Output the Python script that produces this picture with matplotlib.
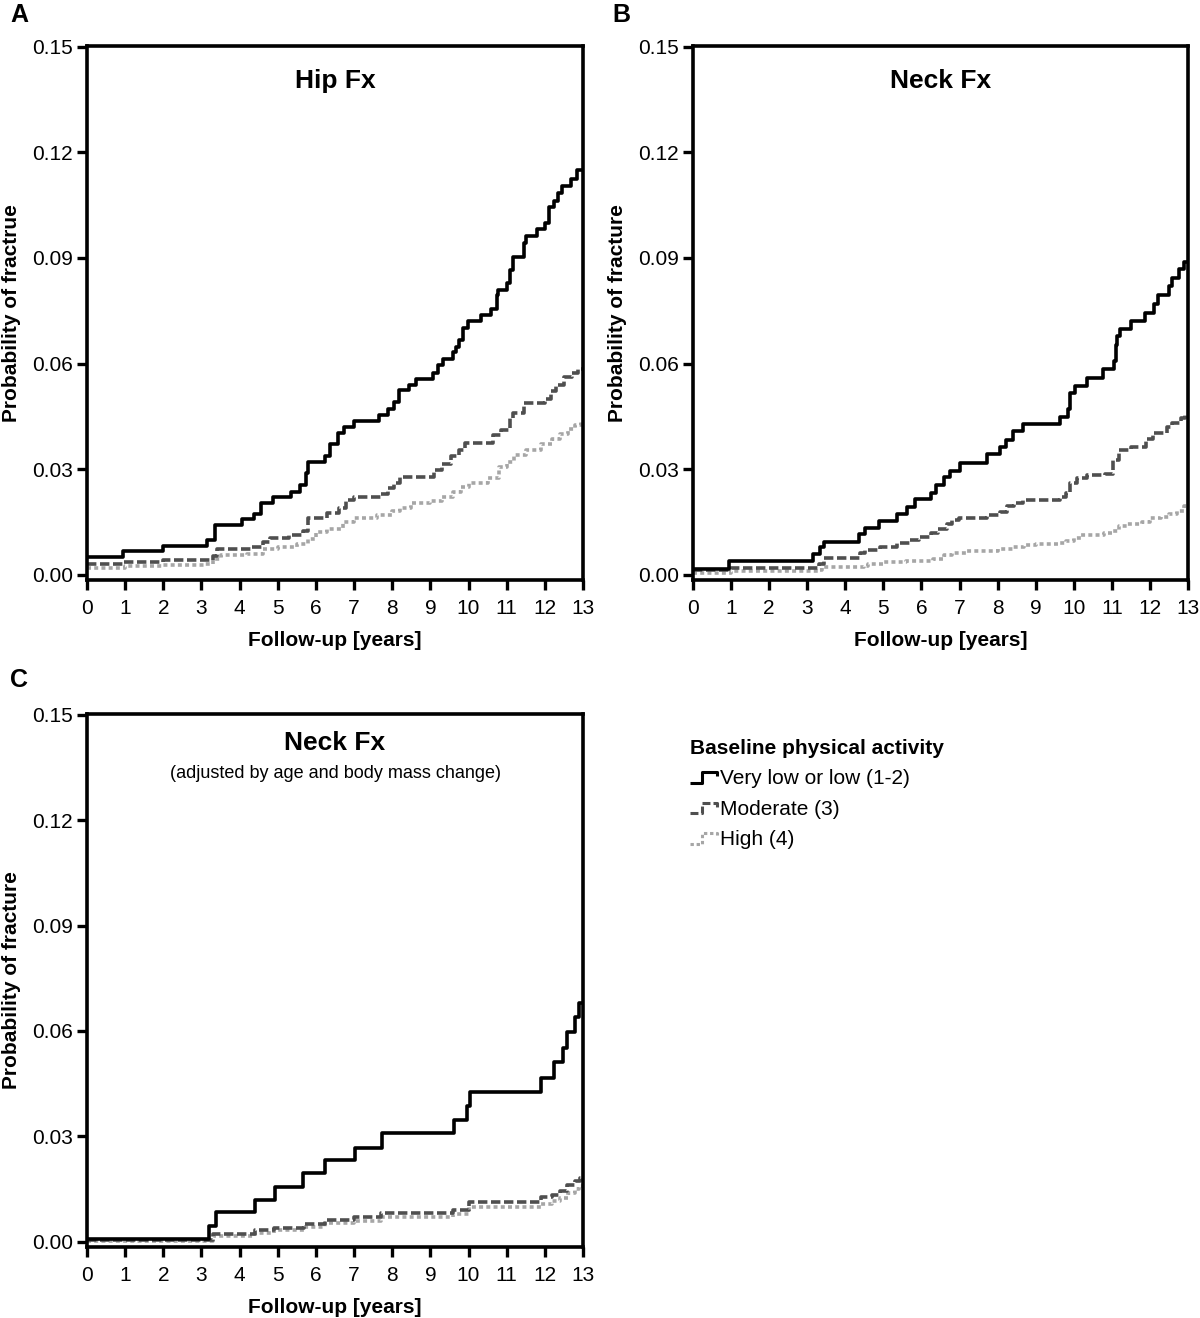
import numpy as np
import matplotlib
matplotlib.use("Agg")
import matplotlib.pyplot as plt
from matplotlib.lines import Line2D
from matplotlib.legend_handler import HandlerBase

plt.rcParams['font.family'] = ['Liberation Sans', 'DejaVu Sans']

# ---- data ----
# Panel A: hip fracture
hip_low_t = [0, 0.95, 1.98, 3.14, 3.36, 4.05, 4.39, 4.55, 4.88, 5.34, 5.59, 5.74, 5.79, 6.23, 6.36,
             6.57, 6.73, 7.0, 7.66, 7.9, 8.05, 8.17, 8.43, 8.63, 9.08, 9.2, 9.33, 9.58, 9.67, 9.76,
             9.85, 9.99, 10.33, 10.59, 10.75, 10.78, 11.02, 11.08, 11.17, 11.46, 11.5, 11.79, 12.0,
             12.12, 12.24, 12.35, 12.44, 12.69, 12.84]
hip_low_p = [0.0049, 0.0066, 0.0082, 0.0098, 0.0140, 0.0158, 0.0173, 0.0204, 0.0221, 0.0236, 0.0255,
             0.0288, 0.0320, 0.0337, 0.0370, 0.0402, 0.0420, 0.0438, 0.0454, 0.0470, 0.0490, 0.0526,
             0.0540, 0.0557, 0.0574, 0.0596, 0.0612, 0.0632, 0.0648, 0.0667, 0.0700, 0.0721, 0.0738,
             0.0755, 0.0796, 0.0810, 0.0828, 0.0867, 0.0903, 0.0943, 0.0963, 0.0981, 0.1000, 0.1044,
             0.1063, 0.1083, 0.1104, 0.1124, 0.1149]
hip_mod_t = [0, 0.95, 2.0, 3.3, 3.4, 4.3, 4.6, 4.8, 5.3, 5.65, 5.8, 6.3, 6.6, 6.8, 7.0, 7.7, 7.9,
             8.05, 8.2, 9.1, 9.3, 9.55, 9.75, 9.9, 10.65, 10.85, 11.08, 11.17, 11.45, 12.0, 12.15,
             12.3, 12.5, 12.7, 12.88]
hip_mod_p = [0.0030, 0.0036, 0.0042, 0.0052, 0.0073, 0.0080, 0.0092, 0.0105, 0.0112, 0.0125, 0.0162,
             0.0175, 0.0190, 0.0212, 0.0222, 0.0230, 0.0245, 0.0260, 0.0279, 0.0298, 0.0315, 0.0337,
             0.0355, 0.0375, 0.0397, 0.0410, 0.0446, 0.0459, 0.0487, 0.0500, 0.0522, 0.0539, 0.0561,
             0.0574, 0.0585]
hip_high_t = [0, 1.0, 2.0, 3.1, 3.3, 3.5, 4.2, 4.6, 5.0, 5.5, 5.8, 6.0, 6.3, 6.7, 7.0, 7.6, 8.0, 8.2,
              8.5, 9.0, 9.3, 9.6, 9.8, 10.0, 10.5, 10.8, 11.0, 11.2, 11.5, 11.9, 12.2, 12.4, 12.6,
              12.8, 12.95]
hip_high_p = [0.0020, 0.0025, 0.0028, 0.0030, 0.0045, 0.0055, 0.0060, 0.0072, 0.0080, 0.0088, 0.0102,
              0.0120, 0.0130, 0.0150, 0.0160, 0.0170, 0.0180, 0.0190, 0.0205, 0.0210, 0.0220, 0.0235,
              0.0250, 0.0260, 0.0275, 0.0305, 0.0320, 0.0340, 0.0355, 0.0370, 0.0385, 0.0400, 0.0415,
              0.0425, 0.0435]

# Panel B: femoral neck fracture
neck_low_t = [0, 0.95, 3.16, 3.34, 3.43, 4.37, 4.53, 4.89, 5.35, 5.62, 5.82, 6.26, 6.39, 6.58, 6.76,
              7.0, 7.71, 8.06, 8.21, 8.4, 8.67, 9.63, 9.84, 9.9, 10.04, 10.36, 10.77, 11.06, 11.1,
              11.13, 11.22, 11.49, 11.88, 12.11, 12.2, 12.49, 12.57, 12.77, 12.9]
neck_low_p = [0.0017, 0.0038, 0.0058, 0.0078, 0.0094, 0.0115, 0.0134, 0.0154, 0.0173, 0.0193, 0.0214,
              0.0233, 0.0255, 0.0277, 0.0296, 0.0317, 0.0342, 0.0364, 0.0384, 0.0408, 0.0427, 0.0449,
              0.0471, 0.0515, 0.0537, 0.0558, 0.0583, 0.0608, 0.0654, 0.0678, 0.0697, 0.0721, 0.0744,
              0.0768, 0.0796, 0.0821, 0.0843, 0.0869, 0.0889]
neck_mod_t = [0, 1.0, 3.3, 3.43, 4.39, 4.53, 4.9, 5.35, 5.7, 5.94, 6.26, 6.44, 6.67, 6.8, 6.99, 7.71,
              8.07, 8.24, 8.44, 8.67, 9.63, 9.8, 9.9, 10.08, 10.36, 10.82, 11.04, 11.18, 11.49, 11.9,
              12.08, 12.44, 12.58, 12.81, 12.93]
neck_mod_p = [0.0012, 0.0019, 0.0030, 0.0047, 0.0063, 0.0069, 0.0078, 0.0089, 0.0099, 0.0107, 0.0118,
              0.0129, 0.0145, 0.0156, 0.0162, 0.0169, 0.0178, 0.0195, 0.0205, 0.0213, 0.0222, 0.0233,
              0.0260, 0.0274, 0.0282, 0.0287, 0.0326, 0.0353, 0.0364, 0.0386, 0.0402, 0.0419, 0.0432,
              0.0446, 0.0457]
neck_high_t = [0, 1.0, 3.3, 3.4, 4.5, 4.6, 5.0, 5.6, 6.3, 6.6, 6.8, 7.2, 8.0, 8.4, 8.7, 9.0, 9.6, 9.8,
               10.0, 10.2, 10.8, 11.0, 11.2, 11.4, 11.8, 12.0, 12.3, 12.5, 12.7, 12.9]
neck_high_p = [0.0004, 0.0010, 0.0013, 0.0022, 0.0025, 0.0030, 0.0035, 0.0040, 0.0045, 0.0055, 0.0062,
               0.0067, 0.0072, 0.0078, 0.0085, 0.0088, 0.0090, 0.0095, 0.0105, 0.0112, 0.0118, 0.0125,
               0.0138, 0.0143, 0.0150, 0.0160, 0.0165, 0.0172, 0.0182, 0.0195]

# Panel C: femoral neck fracture, adjusted by age and body mass change
adj_low_t = [0, 3.21, 3.38, 4.4, 4.92, 5.67, 6.25, 7.03, 7.73, 9.62, 9.96, 10.05, 11.91, 12.23,
             12.48, 12.57, 12.79, 12.9]
adj_low_p = [0.0008, 0.0044, 0.0084, 0.0119, 0.0157, 0.0196, 0.0232, 0.0268, 0.0309, 0.0347, 0.0387,
             0.0425, 0.0467, 0.0511, 0.0552, 0.0598, 0.0640, 0.0680]
adj_mod_t = [0, 3.3, 4.4, 4.9, 5.7, 6.25, 7.0, 7.7, 9.6, 10.0, 11.9, 12.2, 12.4, 12.57, 12.8, 12.92]
adj_mod_p = [0.0004, 0.0021, 0.0032, 0.0040, 0.0051, 0.0062, 0.0071, 0.0082, 0.0090, 0.0112, 0.0126,
             0.0133, 0.0144, 0.0161, 0.0174, 0.0180]
adj_high_t = [0, 3.3, 4.4, 4.9, 5.7, 6.25, 7.0, 7.7, 9.6, 10.0, 11.9, 12.2, 12.4, 12.6, 12.8, 12.9]
adj_high_p = [0.0003, 0.0015, 0.0025, 0.0033, 0.0043, 0.0052, 0.0060, 0.0071, 0.0080, 0.0098, 0.0108,
              0.0115, 0.0125, 0.0140, 0.0150, 0.0160]

group_labels = ['Very low or low (1-2)', 'Moderate (3)', 'High (4)']
legend_title = 'Baseline physical activity'
x_ticks = list(range(0, 14))
y_ticks = [0.00, 0.03, 0.06, 0.09, 0.12, 0.15]

LW = 2.6
styles = [
    dict(color='black', lw=LW, linestyle='-', solid_capstyle='butt'),
    dict(color='#4f4f4f', lw=LW, linestyle=(0, (2.6, 1.0)), dash_capstyle='butt'),
    dict(color='#a6a6a6', lw=LW, linestyle=(0, (1.1, 0.9)), dash_capstyle='butt'),
]

fig = plt.figure(figsize=(12, 13.18), dpi=100)
axA = fig.add_axes([87/1200, 1-580/1318, 496/1200, 534/1318])
axB = fig.add_axes([693/1200, 1-580/1318, 495/1200, 534/1318])
axC = fig.add_axes([87/1200, 1-1247/1318, 496/1200, 533/1318])


def step_curve(ax, t, p, st):
    tt = np.append(t, 13)
    pp = np.append(p, p[-1])
    return ax.step(tt, pp, where='post', **st)[0]


def style_axes(ax, ylabel):
    ax.set_xlim(0, 13)
    ax.set_ylim(-0.0015, 0.1502)
    ax.set_xticks(x_ticks)
    ax.set_yticks(y_ticks)
    ax.set_yticklabels(['%.2f' % v for v in y_ticks])
    for s in ax.spines.values():
        s.set_linewidth(2.6)
    ax.tick_params(direction='out', length=7, width=2.4, labelsize=15)
    ax.tick_params(axis='x', pad=7)
    ax.tick_params(axis='y', pad=3)
    ax.set_xlabel('Follow-up [years]', fontsize=15, fontweight='bold', labelpad=9)
    ax.set_ylabel(ylabel, fontsize=15, fontweight='bold', labelpad=8)


handles = []
for ax, data, ylab in [
    (axA, [(hip_low_t, hip_low_p), (hip_mod_t, hip_mod_p), (hip_high_t, hip_high_p)],
     'Probability of fractrue'),
    (axB, [(neck_low_t, neck_low_p), (neck_mod_t, neck_mod_p), (neck_high_t, neck_high_p)],
     'Probability of fracture'),
    (axC, [(adj_low_t, adj_low_p), (adj_mod_t, adj_mod_p), (adj_high_t, adj_high_p)],
     'Probability of fracture'),
]:
    # lightest first so the solid line ends up on top
    lines = []
    for (t, p), st in reversed(list(zip(data, styles))):
        lines.append(step_curve(ax, t, p, st))
    handles = lines[::-1]
    style_axes(ax, ylab)

axA.text(0.5, 0.935, 'Hip Fx', transform=axA.transAxes, ha='center', va='center',
         fontsize=19, fontweight='bold')
axB.text(0.5, 0.935, 'Neck Fx', transform=axB.transAxes, ha='center', va='center',
         fontsize=19, fontweight='bold')
axC.text(0.5, 0.945, 'Neck Fx', transform=axC.transAxes, ha='center', va='center',
         fontsize=19, fontweight='bold')
axC.text(0.5, 0.888, '(adjusted by age and body mass change)', transform=axC.transAxes,
         ha='center', va='center', fontsize=13)

fig.text(10/1200, 1-15/1318, 'A', fontsize=18, fontweight='bold', ha='left', va='center')
fig.text(612/1200, 1-15/1318, 'B', fontsize=18, fontweight='bold', ha='left', va='center')
fig.text(10/1200, 1-680/1318, 'C', fontsize=18, fontweight='bold', ha='left', va='center')


class StepHandler(HandlerBase):
    def create_artists(self, legend, orig_handle, xdescent, ydescent, width, height,
                       fontsize, trans):
        xs = np.array([0, 0.45, 0.45, 1.0, 1.0]) * width - xdescent
        ys = np.array([0.1, 0.1, 0.85, 0.85, 0.55]) * height - ydescent
        ln = Line2D(xs, ys)
        ln.update_from(orig_handle)
        ln.set_drawstyle('default')
        ln.set_clip_on(False)
        ln.set_clip_box(None)
        ln.set_clip_path(None)
        ln.set_linewidth(2.2)
        ln.set_transform(trans)
        return [ln]


leg = fig.legend(handles, group_labels, loc='upper left',
                 bbox_to_anchor=(690/1200, 1-739/1318), title=legend_title,
                 frameon=False, fontsize=15, handlelength=1.3, handletextpad=0.15,
                 labelspacing=0.55, borderpad=0, borderaxespad=0, alignment='left',
                 handler_map={Line2D: StepHandler()},
                 title_fontproperties={'weight': 'bold', 'size': 15})

fig.savefig('out.png', dpi=100)
